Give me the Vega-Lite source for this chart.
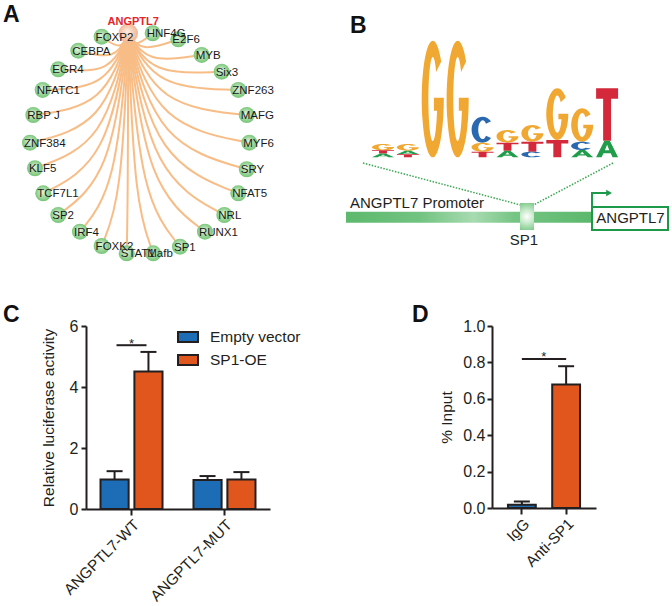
{
"$schema":"https://vega.github.io/schema/vega-lite/v6.json",
"padding":{"left":3,"top":4,"right":0,"bottom":0},
"background":"white",
"spacing":34,
"resolve":{"scale":{"color":"independent","shape":"independent"}},
"config":{
 "font":"Liberation Sans",
 "view":{"stroke":null},
 "axis":{"domainColor":"#231f20","domainWidth":2,"tickColor":"#231f20","tickWidth":2,"tickSize":5,"labelFontSize":16,"labelColor":"#231f20","labelPadding":3,"labelOverlap":false,"titleFontSize":15.5,"titleFontWeight":"normal","titleColor":"#231f20","grid":false,"labelFont":"Liberation Sans","titleFont":"Liberation Sans"},
 "axisX":{"tickSize":6,"labelPadding":2,"labelFontSize":15.3},
 "title":{"fontSize":23,"fontWeight":"bold","color":"#111111","font":"Liberation Sans","anchor":"start","frame":"group"}
},
"datasets":{
 "hub":[{"tf":"ANGPTL7","u":-0.102,"v":1.0}],
 "nodes":[
  {"tf":"FOXP2","u":-0.344,"v":0.969},{"tf":"HNF4G","u":0.12,"v":1.0},{"tf":"E2F6","u":0.353,"v":0.945},{"tf":"MYB","u":0.565,"v":0.803},
  {"tf":"Six3","u":0.747,"v":0.651},{"tf":"ZNF263","u":0.898,"v":0.485},{"tf":"MAFG","u":0.975,"v":0.257},{"tf":"MYF6","u":0.998,"v":0.005},
  {"tf":"SRY","u":0.975,"v":-0.236},{"tf":"NFAT5","u":0.898,"v":-0.455},{"tf":"NRL","u":0.771,"v":-0.652},{"tf":"RUNX1","u":0.595,"v":-0.804},
  {"tf":"SP1","u":0.368,"v":-0.94},{"tf":"Mafb","u":0.125,"v":-1.0},{"tf":"STAT1","u":-0.116,"v":-1.0},{"tf":"FOXK2","u":-0.344,"v":-0.934},
  {"tf":"IRF4","u":-0.541,"v":-0.804},{"tf":"SP2","u":-0.738,"v":-0.652},{"tf":"TCF7L1","u":-0.875,"v":-0.455},{"tf":"KLF5","u":-0.95,"v":-0.227},
  {"tf":"ZNF384","u":-0.995,"v":0.005},{"tf":"RBP J","u":-0.965,"v":0.257},{"tf":"NFATC1","u":-0.88,"v":0.485},{"tf":"EGR4","u":-0.738,"v":0.673},
  {"tf":"CEBPA","u":-0.556,"v":0.842}],
 "edges":[
  {"tf":"FOXP2","k":0,"u":-0.102,"v":1},{"tf":"FOXP2","k":1,"u":-0.163,"v":0.842},{"tf":"FOXP2","k":2,"u":-0.344,"v":0.969},
  {"tf":"HNF4G","k":0,"u":-0.102,"v":1},{"tf":"HNF4G","k":1,"u":-0.047,"v":0.864},{"tf":"HNF4G","k":2,"u":0.12,"v":1.0},
  {"tf":"E2F6","k":0,"u":-0.102,"v":1},{"tf":"E2F6","k":1,"u":0.012,"v":0.826},{"tf":"E2F6","k":2,"u":0.353,"v":0.945},
  {"tf":"MYB","k":0,"u":-0.102,"v":1},{"tf":"MYB","k":1,"u":0.065,"v":0.726},{"tf":"MYB","k":2,"u":0.565,"v":0.803},
  {"tf":"Six3","k":0,"u":-0.102,"v":1},{"tf":"Six3","k":1,"u":0.11,"v":0.62},{"tf":"Six3","k":2,"u":0.747,"v":0.651},
  {"tf":"ZNF263","k":0,"u":-0.102,"v":1},{"tf":"ZNF263","k":1,"u":0.148,"v":0.504},{"tf":"ZNF263","k":2,"u":0.898,"v":0.485},
  {"tf":"MAFG","k":0,"u":-0.102,"v":1},{"tf":"MAFG","k":1,"u":0.167,"v":0.344},{"tf":"MAFG","k":2,"u":0.975,"v":0.257},
  {"tf":"MYF6","k":0,"u":-0.102,"v":1},{"tf":"MYF6","k":1,"u":0.173,"v":0.168},{"tf":"MYF6","k":2,"u":0.998,"v":0.005},
  {"tf":"SRY","k":0,"u":-0.102,"v":1},{"tf":"SRY","k":1,"u":0.167,"v":-0.001},{"tf":"SRY","k":2,"u":0.975,"v":-0.236},
  {"tf":"NFAT5","k":0,"u":-0.102,"v":1},{"tf":"NFAT5","k":1,"u":0.148,"v":-0.155},{"tf":"NFAT5","k":2,"u":0.898,"v":-0.455},
  {"tf":"NRL","k":0,"u":-0.102,"v":1},{"tf":"NRL","k":1,"u":0.116,"v":-0.292},{"tf":"NRL","k":2,"u":0.771,"v":-0.652},
  {"tf":"RUNX1","k":0,"u":-0.102,"v":1},{"tf":"RUNX1","k":1,"u":0.072,"v":-0.399},{"tf":"RUNX1","k":2,"u":0.595,"v":-0.804},
  {"tf":"SP1","k":0,"u":-0.102,"v":1},{"tf":"SP1","k":1,"u":0.015,"v":-0.494},{"tf":"SP1","k":2,"u":0.368,"v":-0.94},
  {"tf":"Mafb","k":0,"u":-0.102,"v":1},{"tf":"Mafb","k":1,"u":-0.045,"v":-0.536},{"tf":"Mafb","k":2,"u":0.125,"v":-1.0},
  {"tf":"STAT1","k":0,"u":-0.102,"v":1},{"tf":"STAT1","k":1,"u":-0.106,"v":-0.536},{"tf":"STAT1","k":2,"u":-0.116,"v":-1.0},
  {"tf":"FOXK2","k":0,"u":-0.102,"v":1},{"tf":"FOXK2","k":1,"u":-0.163,"v":-0.49},{"tf":"FOXK2","k":2,"u":-0.344,"v":-0.934},
  {"tf":"IRF4","k":0,"u":-0.102,"v":1},{"tf":"IRF4","k":1,"u":-0.212,"v":-0.399},{"tf":"IRF4","k":2,"u":-0.541,"v":-0.804},
  {"tf":"SP2","k":0,"u":-0.102,"v":1},{"tf":"SP2","k":1,"u":-0.261,"v":-0.292},{"tf":"SP2","k":2,"u":-0.738,"v":-0.652},
  {"tf":"TCF7L1","k":0,"u":-0.102,"v":1},{"tf":"TCF7L1","k":1,"u":-0.295,"v":-0.155},{"tf":"TCF7L1","k":2,"u":-0.875,"v":-0.455},
  {"tf":"KLF5","k":0,"u":-0.102,"v":1},{"tf":"KLF5","k":1,"u":-0.314,"v":0.005},{"tf":"KLF5","k":2,"u":-0.95,"v":-0.227},
  {"tf":"ZNF384","k":0,"u":-0.102,"v":1},{"tf":"ZNF384","k":1,"u":-0.325,"v":0.168},{"tf":"ZNF384","k":2,"u":-0.995,"v":0.005},
  {"tf":"RBP J","k":0,"u":-0.102,"v":1},{"tf":"RBP J","k":1,"u":-0.318,"v":0.344},{"tf":"RBP J","k":2,"u":-0.965,"v":0.257},
  {"tf":"NFATC1","k":0,"u":-0.102,"v":1},{"tf":"NFATC1","k":1,"u":-0.297,"v":0.504},{"tf":"NFATC1","k":2,"u":-0.88,"v":0.485},
  {"tf":"EGR4","k":0,"u":-0.102,"v":1},{"tf":"EGR4","k":1,"u":-0.261,"v":0.635},{"tf":"EGR4","k":2,"u":-0.738,"v":0.673},
  {"tf":"CEBPA","k":0,"u":-0.102,"v":1},{"tf":"CEBPA","k":1,"u":-0.216,"v":0.753},{"tf":"CEBPA","k":2,"u":-0.556,"v":0.842}],
 "logo":[
  {"u":1,"base":"G","id":"1G","b":0.174},{"u":1,"base":"T","id":"1T","b":0.092},{"u":1,"base":"A","id":"1A","b":0.032},
  {"u":2,"base":"G","id":"2G","b":0.171},{"u":2,"base":"A","id":"2A","b":0.082},{"u":2,"base":"T","id":"2T","b":0.026},
  {"u":3,"base":"G","id":"3G","b":1.0},{"u":4,"base":"G","id":"4G","b":1.0},
  {"u":5,"base":"C","id":"5C","b":0.473},{"u":5,"base":"G","id":"5G","b":0.173},{"u":5,"base":"T","id":"5T","b":0.048},
  {"u":6,"base":"G","id":"6G","b":0.359},{"u":6,"base":"T","id":"6T","b":0.182},{"u":6,"base":"A","id":"6A","b":0.057},
  {"u":7,"base":"G","id":"7G","b":0.411},{"u":7,"base":"T","id":"7T","b":0.182},{"u":7,"base":"C","id":"7C","b":0.048},
  {"u":8,"base":"G","id":"8G","b":0.74},{"u":8,"base":"T","id":"8T","b":0.148},
  {"u":9,"base":"G","id":"9G","b":0.554},{"u":9,"base":"C","id":"9C","b":0.196},{"u":9,"base":"A","id":"9A","b":0.063},
  {"u":10,"base":"T","id":"10T","b":0.734},{"u":10,"base":"A","id":"10A","b":0.142}],
 "guides":[{"u":0.197,"b":-0.098,"u2":6.522,"b2":-0.818},{"u":10.237,"b":-0.098,"u2":7.044,"b2":-0.818}],
 "promoter":[{"u":-0.486,"u2":9.394,"b":-0.933,"b2":-1.122}],
 "site":[{"u":6.502,"u2":7.064,"b":-0.784,"b2":-1.247}],
 "gene":[{"u":9.394,"u2":12.446,"b":-0.852,"b2":-1.247}],
 "arrow":[{"k":0,"u":9.394,"b":-0.938},{"k":1,"u":9.394,"b":-0.612},{"k":2,"u":10.0,"b":-0.612}],
 "arrowhead":[{"u":10.08,"b":-0.612}],
 "btext":[{"t":"ANGPTL7 Promoter","u":2.365,"b":-0.873},{"t":"SP1","u":6.663,"b":-1.504},{"t":"ANGPTL7","u":10.94,"b":-1.127}],
 "luc":[
  {"construct":"ANGPTL7-WT","group":"Empty vector","mean":0.97,"upper":1.24},
  {"construct":"ANGPTL7-WT","group":"SP1-OE","mean":4.51,"upper":5.15},
  {"construct":"ANGPTL7-MUT","group":"Empty vector","mean":0.95,"upper":1.08},
  {"construct":"ANGPTL7-MUT","group":"SP1-OE","mean":0.97,"upper":1.21}],
 "lucsig":[{"construct":"ANGPTL7-WT","y":5.37}],
 "chip":[{"ab":"IgG","mean":0.018,"upper":0.036},{"ab":"Anti-SP1","mean":0.678,"upper":0.779}],
 "chipsig":[{"ab":"IgG","ab2":"Anti-SP1","y":0.819}]
},
"vconcat":[
 {"spacing":56,"resolve":{"scale":{"color":"independent","shape":"independent"}},"hconcat":[
  {
   "width":204,"height":243,
   "title":{"text":"A","dx":-83,"offset":-11},
   "encoding":{
    "x":{"field":"u","type":"quantitative","scale":{"domain":[-0.486,1.368],"nice":false,"zero":false},"axis":null},
    "y":{"field":"v","type":"quantitative","scale":{"domain":[-1.152,1.057],"nice":false,"zero":false},"axis":null}
   },
   "layer":[
    {"data":{"name":"edges"},"mark":{"type":"line","interpolate":"basis","color":"#f8bd86","strokeWidth":2},"encoding":{"detail":{"field":"tf"},"order":{"field":"k"}}},
    {"data":{"name":"nodes"},"mark":{"type":"circle","size":255,"opacity":1,"strokeWidth":0,"fill":{"gradient":"radial","x1":0.45,"y1":0.4,"r1":0,"x2":0.5,"y2":0.5,"r2":0.55,"stops":[{"offset":0,"color":"#e2f5dd"},{"offset":1,"color":"#6cc06d"}]}}},
    {"data":{"name":"hub"},"mark":{"type":"circle","size":380,"opacity":1,"strokeWidth":0,"fill":{"gradient":"radial","x1":0.45,"y1":0.4,"r1":0,"x2":0.5,"y2":0.5,"r2":0.55,"stops":[{"offset":0,"color":"#fdeee4"},{"offset":1,"color":"#f0b08a"}]}}},
    {"data":{"name":"nodes"},"mark":{"type":"text","align":"left","baseline":"middle","dx":-6,"dy":1,"fontSize":11.5,"color":"#1a1a1a"},"encoding":{"text":{"field":"tf"}}},
    {"data":{"name":"hub"},"mark":{"type":"text","align":"center","baseline":"alphabetic","dx":5,"dy":-8,"fontSize":11,"fontWeight":"bold","color":"#e3262b"},"encoding":{"text":{"field":"tf"}}}
   ]
  },
  {
   "width":324,"height":223,
   "title":{"text":"B","dx":4,"offset":-11},
   "encoding":{
    "x":{"field":"u","type":"quantitative","scale":{"domain":[-0.486,12.526],"nice":false,"zero":false},"axis":null},
    "y":{"field":"b","type":"quantitative","scale":{"domain":[-1.59,2.235],"nice":false,"zero":false},"axis":null}
   },
   "layer":[
    {"data":{"name":"guides"},"mark":{"type":"rule","color":"#3aa651","strokeWidth":1.5,"strokeDash":[1.5,1.5]},"encoding":{"x2":{"field":"u2"},"y2":{"field":"b2"}}},
    {"data":{"name":"promoter"},"mark":{"type":"rect","fill":{"gradient":"linear","x1":0,"y1":0,"x2":1,"y2":0,"stops":[{"offset":0,"color":"#5cb96d"},{"offset":0.3,"color":"#72c381"},{"offset":0.52,"color":"#a8dbb1"},{"offset":0.68,"color":"#77c585"},{"offset":1,"color":"#5ab86b"}]}},"encoding":{"x2":{"field":"u2"},"y2":{"field":"b2"}}},
    {"data":{"name":"site"},"mark":{"type":"rect","fill":{"gradient":"radial","x1":0.5,"y1":0.5,"r1":0,"x2":0.5,"y2":0.5,"r2":0.55,"stops":[{"offset":0,"color":"#ffffff"},{"offset":0.45,"color":"#c8eacc"},{"offset":1,"color":"#7cc988"}]}},"encoding":{"x2":{"field":"u2"},"y2":{"field":"b2"}}},
    {"data":{"name":"gene"},"mark":{"type":"rect","fill":"#ffffff","stroke":"#1d9a49","strokeWidth":2},"encoding":{"x2":{"field":"u2"},"y2":{"field":"b2"}}},
    {"data":{"name":"arrow"},"mark":{"type":"line","color":"#1d9a49","strokeWidth":2},"encoding":{"order":{"field":"k"}}},
    {"data":{"name":"arrowhead"},"mark":{"type":"point","shape":"triangle-right","filled":true,"size":45,"opacity":1,"color":"#1d9a49"}},
    {"data":{"name":"btext"},"mark":{"type":"text","fontSize":15,"color":"#231f20","baseline":"alphabetic","align":"center"},"encoding":{"text":{"field":"t"}}},
    {"data":{"name":"logo"},"mark":{"type":"point","filled":true,"size":484,"opacity":1,"strokeWidth":0},
     "encoding":{
      "shape":{"field":"id","type":"nominal","legend":null,"scale":{
       "domain":["1G","1T","1A","2G","2A","2T","3G","4G","5C","5G","5T","6G","6T","6A","7G","7T","7C","8G","8T","9G","9C","9A","10T","10A"],
       "range":[
        "M0.766,-0.184A1,0.286 0 1 0 1,0L1,-0.006L0.1,-0.006L0.1,0.057L0.384,0.057A0.4,0.206 0 1 1 0.306,-0.132Z",
        "M-1,-0.15L1,-0.15L1,-0.09L0.36,-0.09L0.36,0.15L-0.36,0.15L-0.36,-0.09L-1,-0.09Z",
        "M-1,0.168L-0.25,-0.168L0.25,-0.168L1,0.168L0.5,0.168L0.33,0.084L-0.33,0.084L-0.5,0.168ZM-0.2,0.025L0.2,0.025L0,-0.084Z",
        "M0.766,-0.196A1,0.305 0 1 0 1,0L1,-0.006L0.1,-0.006L0.1,0.061L0.384,0.061A0.4,0.22 0 1 1 0.306,-0.141Z",
        "M-1,0.164L-0.25,-0.164L0.25,-0.164L1,0.164L0.5,0.164L0.33,0.082L-0.33,0.082L-0.5,0.164ZM-0.2,0.025L0.2,0.025L0,-0.082Z",
        "M-1,-0.136L1,-0.136L1,-0.082L0.36,-0.082L0.36,0.136L-0.36,0.136L-0.36,-0.082L-1,-0.082Z",
        "M0.766,-3.408A1,5.3 0 1 0 1,0L1,-0.106L0.1,-0.106L0.1,1.06L0.384,1.06A0.4,3.816 0 1 1 0.306,-2.454Z",
        "M0.766,-3.408A1,5.3 0 1 0 1,0L1,-0.106L0.1,-0.106L0.1,1.06L0.384,1.06A0.4,3.816 0 1 1 0.306,-2.454Z",
        "M0.766,-0.76A1,1.182 0 1 0 0.766,0.76L0.306,0.547A0.4,0.851 0 1 1 0.306,-0.547Z",
        "M0.766,-0.263A1,0.409 0 1 0 1,0L1,-0.008L0.1,-0.008L0.1,0.082L0.384,0.082A0.4,0.294 0 1 1 0.306,-0.189Z",
        "M-1,-0.255L1,-0.255L1,-0.153L0.36,-0.153L0.36,0.255L-0.36,0.255L-0.36,-0.153L-1,-0.153Z",
        "M0.766,-0.371A1,0.577 0 1 0 1,0L1,-0.012L0.1,-0.012L0.1,0.115L0.384,0.115A0.4,0.415 0 1 1 0.306,-0.267Z",
        "M-1,-0.364L1,-0.364L1,-0.218L0.36,-0.218L0.36,0.364L-0.36,0.364L-0.36,-0.218L-1,-0.218Z",
        "M-1,0.3L-0.25,-0.3L0.25,-0.3L1,0.3L0.5,0.3L0.33,0.15L-0.33,0.15L-0.5,0.3ZM-0.2,0.045L0.2,0.045L0,-0.15Z",
        "M0.766,-0.488A1,0.759 0 1 0 1,0L1,-0.015L0.1,-0.015L0.1,0.152L0.384,0.152A0.4,0.546 0 1 1 0.306,-0.351Z",
        "M-1,-0.455L1,-0.455L1,-0.273L0.36,-0.273L0.36,0.455L-0.36,0.455L-0.36,-0.273L-1,-0.273Z",
        "M0.766,-0.164A1,0.255 0 1 0 0.766,0.164L0.306,0.118A0.4,0.184 0 1 1 0.306,-0.118Z",
        "M0.766,-1.511A1,2.35 0 1 0 1,0L1,-0.047L0.1,-0.047L0.1,0.47L0.384,0.47A0.4,1.692 0 1 1 0.306,-1.088Z",
        "M-1,-0.786L1,-0.786L1,-0.472L0.36,-0.472L0.36,0.786L-0.36,0.786L-0.36,-0.472L-1,-0.472Z",
        "M0.766,-0.976A1,1.518 0 1 0 1,0L1,-0.03L0.1,-0.03L0.1,0.304L0.384,0.304A0.4,1.093 0 1 1 0.306,-0.703Z",
        "M0.766,-0.242A1,0.377 0 1 0 0.766,0.242L0.306,0.175A0.4,0.271 0 1 1 0.306,-0.175Z",
        "M-1,0.332L-0.25,-0.332L0.25,-0.332L1,0.332L0.5,0.332L0.33,0.166L-0.33,0.166L-0.5,0.332ZM-0.2,0.05L0.2,0.05L0,-0.166Z",
        "M-1,-2.382L1,-2.382L1,-1.429L0.36,-1.429L0.36,2.382L-0.36,2.382L-0.36,-1.429L-1,-1.429Z",
        "M-1,0.755L-0.25,-0.755L0.25,-0.755L1,0.755L0.5,0.755L0.33,0.378L-0.33,0.378L-0.5,0.755ZM-0.2,0.113L0.2,0.113L0,-0.378Z"
       ]}},
      "color":{"field":"base","type":"nominal","legend":null,"scale":{"domain":["A","C","G","T"],"range":["#1f9d4b","#2a69b0","#f0a832","#d3293b"]}}
     }}
   ]
  }
 ]},
 {"spacing":111,"resolve":{"scale":{"color":"independent"}},"hconcat":[
  {
   "width":184,"height":183,
   "title":{"text":"C","dx":-83,"offset":-9},
   "data":{"name":"luc"},
   "layer":[
    {"mark":{"type":"bar","stroke":"#231f20","strokeWidth":2},
     "encoding":{
      "x":{"field":"construct","type":"nominal","sort":["ANGPTL7-WT","ANGPTL7-MUT"],"title":null,"scale":{"paddingInner":0.333,"paddingOuter":0.156},"axis":{"labelAngle":-45}},
      "xOffset":{"field":"group","type":"nominal","sort":["Empty vector","SP1-OE"],"scale":{"paddingInner":0.17}},
      "y":{"field":"mean","type":"quantitative","title":"Relative luciferase activity","scale":{"domain":[0,6],"nice":false},"axis":{"values":[0,2,4,6],"titlePadding":13}},
      "color":{"field":"group","type":"nominal","sort":["Empty vector","SP1-OE"],"scale":{"domain":["Empty vector","SP1-OE"],"range":["#1c6db5","#e0561c"]},
       "legend":{"orient":"none","legendX":91,"legendY":0,"title":null,"symbolType":"M-1,-0.5L1,-0.5L1,0.5L-1,0.5Z","symbolSize":400,"symbolStrokeColor":"#231f20","symbolStrokeWidth":2,"symbolOpacity":1,"labelFontSize":15.5,"labelColor":"#231f20","labelOffset":11,"rowPadding":3,"padding":0}}
     }},
    {"mark":{"type":"rule","color":"#231f20","strokeWidth":2},
     "encoding":{
      "x":{"field":"construct","type":"nominal","sort":["ANGPTL7-WT","ANGPTL7-MUT"],"title":null},
      "xOffset":{"field":"group","type":"nominal","sort":["Empty vector","SP1-OE"]},
      "y":{"field":"mean","type":"quantitative","title":"Relative luciferase activity"},
      "y2":{"field":"upper"}
     }},
    {"mark":{"type":"tick","color":"#231f20","thickness":2,"size":16,"opacity":1},
     "encoding":{
      "x":{"field":"construct","type":"nominal","sort":["ANGPTL7-WT","ANGPTL7-MUT"],"title":null},
      "xOffset":{"field":"group","type":"nominal","sort":["Empty vector","SP1-OE"]},
      "y":{"field":"upper","type":"quantitative","title":"Relative luciferase activity"}
     }},
    {"data":{"name":"lucsig"},"mark":{"type":"tick","color":"#231f20","thickness":2,"size":30,"opacity":1},
     "encoding":{
      "x":{"field":"construct","type":"nominal","sort":["ANGPTL7-WT","ANGPTL7-MUT"],"title":null},
      "y":{"field":"y","type":"quantitative","title":"Relative luciferase activity"}
     }},
    {"data":{"name":"lucsig"},"mark":{"type":"text","text":"*","fontSize":13,"dy":2.5,"baseline":"alphabetic","color":"#231f20"},
     "encoding":{
      "x":{"field":"construct","type":"nominal","sort":["ANGPTL7-WT","ANGPTL7-MUT"],"title":null},
      "y":{"field":"y","type":"quantitative","title":"Relative luciferase activity"}
     }}
   ]
  },
  {
   "width":104,"height":182,
   "title":{"text":"D","dx":-80,"offset":-9},
   "data":{"name":"chip"},
   "layer":[
    {"mark":{"type":"bar","stroke":"#231f20","strokeWidth":2},
     "encoding":{
      "x":{"field":"ab","type":"nominal","sort":["IgG","Anti-SP1"],"title":null,"scale":{"paddingInner":0.371,"paddingOuter":0.36},"axis":{"labelAngle":-45}},
      "y":{"field":"mean","type":"quantitative","title":"% Input","scale":{"domain":[0,1],"nice":false},"axis":{"values":[0,0.2,0.4,0.6,0.8,1],"format":".1f","titlePadding":8,"labelOverlap":false,"labelPadding":2}},
      "color":{"field":"ab","type":"nominal","sort":["IgG","Anti-SP1"],"scale":{"domain":["IgG","Anti-SP1"],"range":["#1c6db5","#e0561c"]},"legend":null}
     }},
    {"mark":{"type":"rule","color":"#231f20","strokeWidth":2},
     "encoding":{
      "x":{"field":"ab","type":"nominal","sort":["IgG","Anti-SP1"],"title":null},
      "y":{"field":"mean","type":"quantitative","title":"% Input","axis":{"values":[0,0.2,0.4,0.6,0.8,1],"format":".1f","titlePadding":8,"labelOverlap":false,"labelPadding":2}},
      "y2":{"field":"upper"}
     }},
    {"mark":{"type":"tick","color":"#231f20","thickness":2,"size":16,"opacity":1},
     "encoding":{
      "x":{"field":"ab","type":"nominal","sort":["IgG","Anti-SP1"],"title":null},
      "y":{"field":"upper","type":"quantitative","title":"% Input","axis":{"values":[0,0.2,0.4,0.6,0.8,1],"format":".1f","titlePadding":8,"labelOverlap":false,"labelPadding":2}}
     }},
    {"data":{"name":"chipsig"},"mark":{"type":"rule","color":"#231f20","strokeWidth":2},
     "encoding":{
      "x":{"field":"ab","type":"nominal","sort":["IgG","Anti-SP1"],"title":null},
      "x2":{"field":"ab2"},
      "y":{"field":"y","type":"quantitative","title":"% Input","axis":{"values":[0,0.2,0.4,0.6,0.8,1],"format":".1f","titlePadding":8,"labelOverlap":false,"labelPadding":2}}
     }},
    {"data":{"name":"chipsig"},"mark":{"type":"text","text":"*","fontSize":13,"dy":2.5,"dx":22,"baseline":"alphabetic","color":"#231f20"},
     "encoding":{
      "x":{"field":"ab","type":"nominal","sort":["IgG","Anti-SP1"],"title":null},
      "y":{"field":"y","type":"quantitative","title":"% Input","axis":{"values":[0,0.2,0.4,0.6,0.8,1],"format":".1f","titlePadding":8,"labelOverlap":false,"labelPadding":2}}
     }}
   ]
  }
 ]}
]
}
